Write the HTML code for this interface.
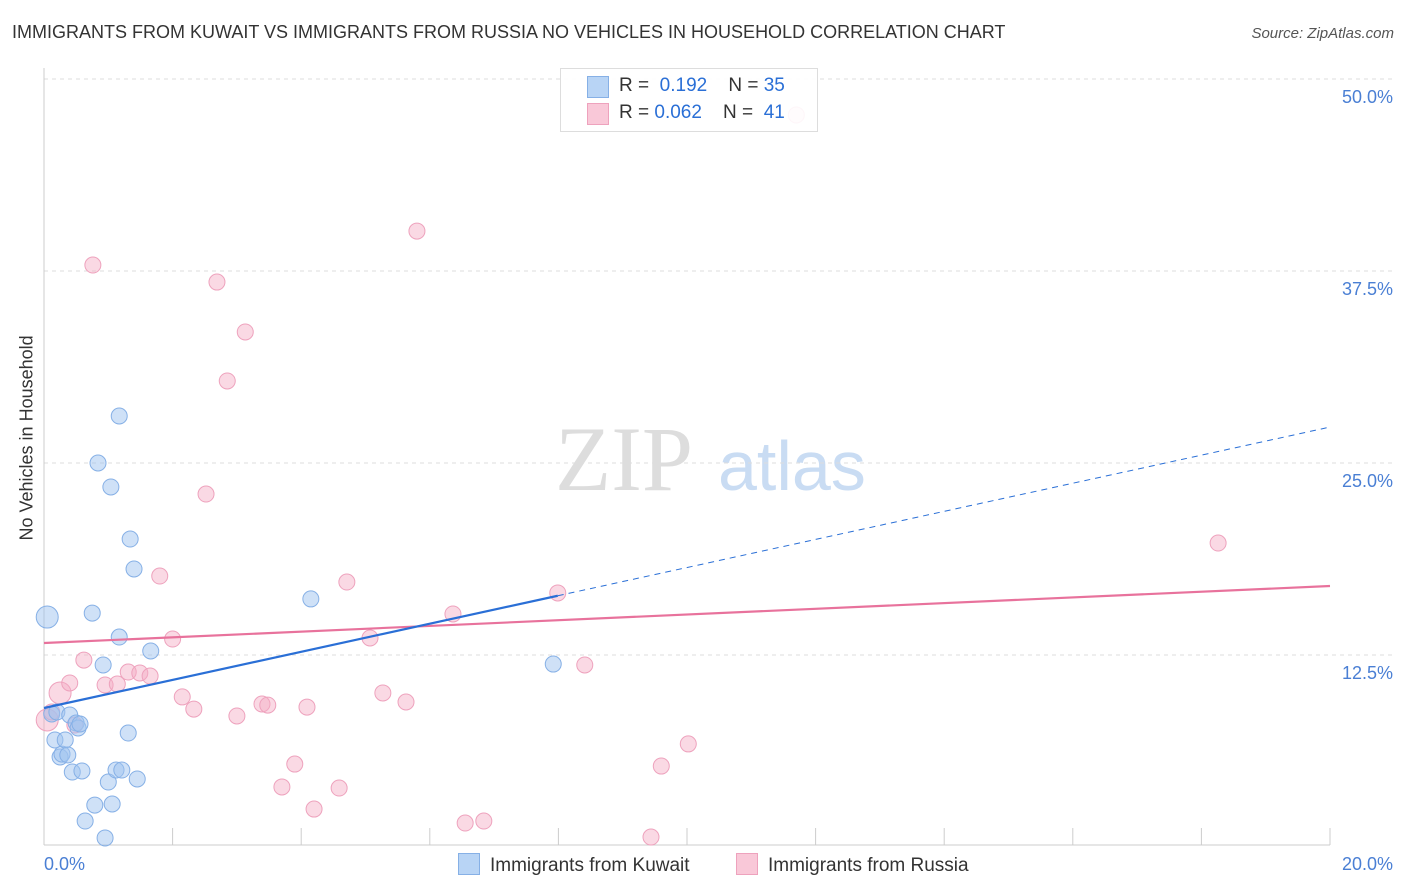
<!DOCTYPE html>
<html><head><meta charset="utf-8"><style>
body{margin:0;background:#fff;font-family:"Liberation Sans",sans-serif;}
#wrap{position:relative;width:1406px;height:892px;overflow:hidden;}
.t{position:absolute;white-space:nowrap;}
</style></head><body>
<div id="wrap">
<div class="t" style="left:12px;top:22px;font-size:18px;color:#333;">IMMIGRANTS FROM KUWAIT VS IMMIGRANTS FROM RUSSIA NO VEHICLES IN HOUSEHOLD CORRELATION CHART</div>
<div class="t" style="right:12px;top:25px;font-size:15px;color:#555;font-style:italic;">Source: ZipAtlas.com</div>
<div class="t" style="left:-58px;top:445px;font-size:18px;color:#333;transform:rotate(-90deg);width:170px;text-align:center;">No Vehicles in Household</div>
<svg id="svg" width="1406" height="892" style="position:absolute;left:0;top:0"></svg>
</div>
<script>
const kuwaitX=[0.05,0.12,0.2,0.17,0.25,0.28,0.33,0.37,0.4,0.44,0.5,0.53,0.56,0.59,0.64,0.75,0.79,0.84,0.92,0.95,1.0,1.06,1.12,1.17,1.17,1.04,1.21,1.31,1.34,1.4,1.45,1.66,4.15,7.92];
const kuwaitY=[14.97,8.66,8.79,6.97,5.86,6.05,6.97,5.99,8.59,4.88,8.07,7.75,8.01,4.95,1.69,15.23,2.73,25.0,11.85,0.59,4.23,2.8,5.01,13.67,28.06,23.44,5.01,7.42,20.05,18.1,4.43,12.76,16.15,11.91];
const russiaX=[0.05,0.12,0.25,0.4,0.48,0.62,0.76,0.95,1.14,1.31,1.49,1.65,1.8,2.0,2.15,2.33,2.52,2.69,2.85,3.0,3.13,3.39,3.48,3.7,3.9,4.09,4.2,4.59,4.71,5.07,5.27,5.63,5.8,6.36,6.55,6.84,7.99,8.41,9.44,9.6,10.02,11.7,18.26];
const russiaY=[8.27,8.79,10.03,10.68,7.94,12.17,37.89,10.55,10.61,11.39,11.33,11.13,17.64,13.54,9.77,8.98,22.98,36.78,30.34,8.53,33.53,9.31,9.24,3.91,5.4,9.11,2.47,3.84,17.25,13.61,10.03,9.44,40.1,15.17,1.56,1.69,16.54,11.85,0.65,5.27,6.71,47.66,19.79];
const kuwaitTrend=[9.05,27.34];const kuwaitSolidEnd=7.99;
const russiaTrend=[13.28,16.99];
const yTicks=[12.5,25,37.5,50];
const xTickVals=[2,4,6,8,10,12,14,16,18,20];
const NS="http://www.w3.org/2000/svg";
const svg=document.getElementById('svg');
const X=v=>44+v*64.3, Y=v=>847-v*15.36;
function el(t,a){const e=document.createElementNS(NS,t);for(const k in a)e.setAttribute(k,a[k]);svg.appendChild(e);return e;}
// watermark
let w=el('text',{x:555,y:490,'font-size':92,fill:'#ddd','font-family':'Liberation Serif,serif'});w.textContent='ZIP';

w=el('text',{x:718,y:490,'font-size':70,fill:'#c9dcf3','font-family':'Liberation Sans,sans-serif'});w.textContent='atlas';

for(const v of yTicks){
 const g=el('line',{x1:44,x2:1394,y1:Y(v),y2:Y(v),stroke:'#ddd','stroke-dasharray':'4,4'});
 
 const t=el('text',{x:1393,y:Y(v)+24,'text-anchor':'end','font-size':18,fill:'#4a7fd4'});t.textContent=v.toFixed(1)+'%';
 
}
let a=el('line',{x1:44,x2:44,y1:68,y2:845,stroke:'#ccc'});
a=el('line',{x1:44,x2:1330,y1:845,y2:845,stroke:'#ccc'});
for(const v of xTickVals){const t=el('line',{x1:X(v),x2:X(v),y1:828,y2:845,stroke:'#ccc'});}
let tl=el('text',{x:44,y:870,'font-size':18,fill:'#4a7fd4'});tl.textContent='0.0%';
tl=el('text',{x:1393,y:870,'font-size':18,fill:'#4a7fd4','text-anchor':'end'});tl.textContent='20.0%';
function pts(xs,ys,fill,stroke,name){xs.forEach((x,i)=>{const big=(x<0.3&&(ys[i]>14||Math.abs(ys[i]-10)<0.1||Math.abs(ys[i]-8.27)<0.01));
 const c=el('circle',{cx:X(x),cy:Y(ys[i]),r:big?11:8,fill:fill,stroke:stroke,'stroke-width':1});
 });}
pts(russiaX,russiaY,'rgba(245,170,195,0.45)','#eea2bd','russia-point');
pts(kuwaitX,kuwaitY,'rgba(160,196,240,0.5)','#86b0e6','kuwait-point');
const lk=x=>kuwaitTrend[0]+(kuwaitTrend[1]-kuwaitTrend[0])*x/20, lr=x=>russiaTrend[0]+(russiaTrend[1]-russiaTrend[0])*x/20;
let l=el('line',{x1:X(0),y1:Y(lr(0)),x2:X(20),y2:Y(lr(20)),stroke:'#e8729c','stroke-width':2.2});
l=el('line',{x1:X(0),y1:Y(lk(0)),x2:X(kuwaitSolidEnd),y2:Y(lk(kuwaitSolidEnd)),stroke:'#2a6fd6','stroke-width':2.2});
l=el('line',{x1:X(kuwaitSolidEnd),y1:Y(lk(kuwaitSolidEnd)),x2:X(20),y2:Y(lk(20)),stroke:'#2a6fd6','stroke-width':1,'stroke-dasharray':'6,5'});
</script>
<div class="t" style="left:560px;top:68px;width:256px;height:62px;border:1px solid #ddd;background:rgba(255,255,255,0.9);font-size:19px;color:#333;">
 <div style="position:absolute;left:26px;top:7px;width:20px;height:20px;background:#b8d4f5;border:1px solid #86b0e6;"></div>
 <div style="position:absolute;left:58px;top:6px;">R = <span style="color:#2a6fd6">&nbsp;0.192</span>&nbsp;&nbsp;&nbsp; N = <span style="color:#2a6fd6">35</span></div>
 <div style="position:absolute;left:26px;top:34px;width:20px;height:20px;background:#f9c8d8;border:1px solid #eea2bd;"></div>
 <div style="position:absolute;left:58px;top:33px;">R = <span style="color:#2a6fd6">0.062</span>&nbsp;&nbsp;&nbsp; N = <span style="color:#2a6fd6">&nbsp;41</span></div>
</div>
<div class="t" style="left:458px;top:853px;font-size:19px;color:#333;"><span style="display:inline-block;width:20px;height:20px;background:#b8d4f5;border:1px solid #86b0e6;vertical-align:-4px;margin-right:10px;"></span>Immigrants from Kuwait</div>
<div class="t" style="left:736px;top:853px;font-size:19px;color:#333;"><span style="display:inline-block;width:20px;height:20px;background:#f9c8d8;border:1px solid #eea2bd;vertical-align:-4px;margin-right:10px;"></span>Immigrants from Russia</div>
</body></html>
